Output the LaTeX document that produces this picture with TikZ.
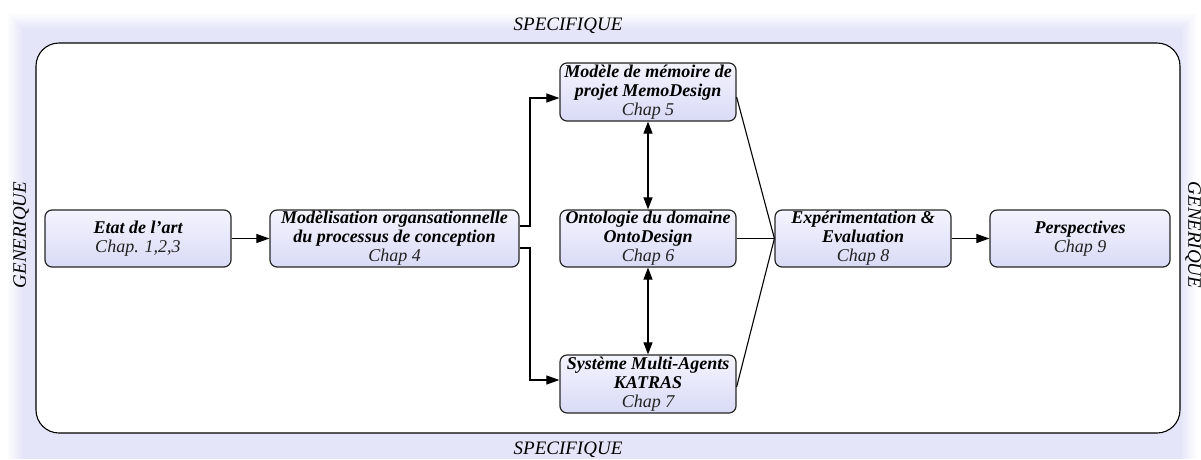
\documentclass[tikz,border=0pt]{standalone}
\usepackage{fontspec}
\setmainfont{Liberation Serif}
\usetikzlibrary{arrows.meta,calc}
\definecolor{lav}{HTML}{E4E5F9}
\definecolor{boxtop}{HTML}{F4F4FE}
\definecolor{boxbot}{HTML}{D9DBF6}
\definecolor{chapgray}{HTML}{222222}
\tikzset{
  stepbox/.style={draw=black!85, line width=1.2pt, rounded corners=7pt,
    top color=boxtop, bottom color=boxbot, minimum height=57pt,
    align=center, inner sep=1pt,
    font=\fontsize{18}{19}\selectfont},
  conn/.style={line width=1.1pt, draw=black},
  arr/.style={conn, -{Triangle[length=13pt,width=9pt]}},
  darr/.style={conn, {Triangle[length=12pt,width=9pt]}-{Triangle[length=12pt,width=9pt]}},
  sidelabel/.style={font=\fontsize{19}{21}\selectfont\itshape, inner sep=0pt},
}
\newcommand{\ttl}[1]{{\bfseries\itshape #1}}
\newcommand{\chp}[1]{{\itshape\color{chapgray}#1}}
\begin{document}
\begin{tikzpicture}[x=1pt,y=-1pt]
\useasboundingbox (0,0) rectangle (1201,459);
\fill[white] (0,0) rectangle (1201,459);
% soft lavender background (opaque nested layers)
\foreach \i in {0,...,16}{
  \pgfmathtruncatemacro{\p}{6*\i+4}
  \fill[lav!\p!white] (7+1*\i,13+1*\i) rectangle (1197-1*\i,459);
}
% outer frame
\draw[fill=white, line width=1.1pt, rounded corners=23pt] (36,43) rectangle (1180,433);
% side labels
\node[sidelabel] (spt) at (568,26) {SPECIFIQUE};
\node[sidelabel] (spb) at (568,450) {SPECIFIQUE};
\node[sidelabel, rotate=90] (gl) at (21,235) {GENERIQUE};
\node[sidelabel, rotate=-90] (gr) at (1193,235) {GENERIQUE};
% boxes
\node[stepbox, minimum width=186pt] (etat) at (138,238.5) {\ttl{Etat de l’art}\\ \chp{Chap. 1,2,3}};
\node[stepbox, minimum width=249pt] (modl) at (394.5,238.5) {\ttl{Modèlisation organsationnelle}\\ \ttl{du processus de conception}\\ \chp{Chap 4}};
\node[stepbox, minimum width=176pt, minimum height=58pt] (memo) at (648,92) {\ttl{Modèle de mémoire de}\\ \ttl{projet MemoDesign}\\ \chp{Chap 5}};
\node[stepbox, minimum width=176pt] (onto) at (648,238.5) {\ttl{Ontologie du domaine}\\ \ttl{OntoDesign}\\ \chp{Chap 6}};
\node[stepbox, minimum width=176pt, minimum height=58pt] (sma) at (648,384) {\ttl{Système Multi-Agents}\\ \ttl{KATRAS}\\ \chp{Chap 7}};
\node[stepbox, minimum width=176pt] (exp) at (863,238.5) {\ttl{Expérimentation \&}\\ \ttl{Evaluation}\\ \chp{Chap 8}};
\node[stepbox, minimum width=180pt] (persp) at (1080,238.5) {\ttl{Perspectives}\\ \chp{Chap 9}};
% connectors
\draw[arr] (etat.east) -- (modl.west);
\draw[arr] ([yshift=12.5pt]modl.east) -| (530,98) -- ([yshift=-6pt]memo.west);
\draw[arr] ([yshift=-9.5pt]modl.east) -| (530,380) -- ([yshift=4pt]sma.west);
\draw[darr] (memo.south) -- (onto.north);
\draw[darr] (onto.south) -- (sma.north);
\draw[conn] ([yshift=-5pt]memo.east) -- (exp.west);
\draw[conn] (onto.east) -- (exp.west);
\draw[conn] ([yshift=-3pt]sma.east) -- (exp.west);
\draw[arr] (exp.east) -- (persp.west);
\end{tikzpicture}
\end{document}
